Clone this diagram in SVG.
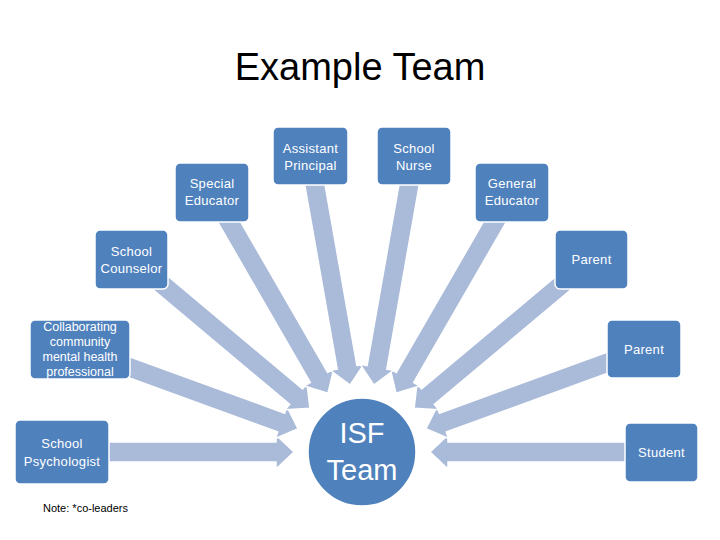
<svg xmlns="http://www.w3.org/2000/svg" xmlns:xlink="http://www.w3.org/1999/xlink" width="720" height="540" viewBox="0 0 720 540">
<style>
.node rect{fill:#4F81BD;stroke:#FFFFFF;stroke-width:1.5}
.node text{fill:#FFFFFF;font-family:"Liberation Sans",Arial,sans-serif;font-size:13px;text-anchor:middle;letter-spacing:0.3px}
.title{fill:#000000;font-family:"Liberation Sans",Arial,sans-serif;font-size:38px;text-anchor:middle}
.note{fill:#000000;font-family:"Liberation Sans",Arial,sans-serif;font-size:11px}
.arr{fill:#AABAD9;stroke:#FFFFFF;stroke-width:1.5;stroke-linejoin:miter}
</style>
<defs>
<polygon id="arrow" class="arr" points="68,0 86,-17 86,-10 300,-10 300,10 86,10 86,17"/>
</defs>
<rect width="720" height="540" fill="#FFFFFF"/>
<text class="title" x="360" y="80">Example Team</text>
<g id="connectors">
<use xlink:href="#arrow" href="#arrow" transform="translate(362,452) rotate(180)"/>
<use xlink:href="#arrow" href="#arrow" transform="translate(362,452) rotate(0)"/>
<use xlink:href="#arrow" href="#arrow" transform="translate(362,452) rotate(200)"/>
<use xlink:href="#arrow" href="#arrow" transform="translate(362,452) rotate(340)"/>
<use xlink:href="#arrow" href="#arrow" transform="translate(362,452) rotate(220)"/>
<use xlink:href="#arrow" href="#arrow" transform="translate(362,452) rotate(320)"/>
<use xlink:href="#arrow" href="#arrow" transform="translate(362,452) rotate(240)"/>
<use xlink:href="#arrow" href="#arrow" transform="translate(362,452) rotate(300)"/>
<use xlink:href="#arrow" href="#arrow" transform="translate(362,452) rotate(260)"/>
<use xlink:href="#arrow" href="#arrow" transform="translate(362,452) rotate(280)"/>
</g>
<g id="isf-team" class="node">
<circle cx="362" cy="452" r="54" fill="#4F81BD" stroke="#FFFFFF" stroke-width="1.5"/>
<text x="362" y="443" style="font-size:29px;letter-spacing:0">ISF</text>
<text x="362" y="480" style="font-size:29px;letter-spacing:0">Team</text>
</g>
<g id="assistant-principal" class="node">
<rect x="273" y="127" width="75" height="58" rx="5"/>
<text x="310.5" y="153">Assistant</text>
<text x="310.5" y="170">Principal</text>
</g>
<g id="school-nurse" class="node">
<rect x="377" y="127" width="74" height="58" rx="5"/>
<text x="414" y="153">School</text>
<text x="414" y="170">Nurse</text>
</g>
<g id="special-educator" class="node">
<rect x="175" y="163" width="74" height="59" rx="5"/>
<text x="212" y="188">Special</text>
<text x="212" y="205">Educator</text>
</g>
<g id="general-educator" class="node">
<rect x="475" y="163" width="74" height="59" rx="5"/>
<text x="512" y="188">General</text>
<text x="512" y="205">Educator</text>
</g>
<g id="school-counselor" class="node">
<rect x="95" y="230" width="73" height="59" rx="5"/>
<text x="131.5" y="256">School</text>
<text x="131.5" y="273">Counselor</text>
</g>
<g id="parent-1" class="node">
<rect x="555" y="230" width="73" height="59" rx="5"/>
<text x="591.5" y="264">Parent</text>
</g>
<g id="collaborating" class="node">
<rect x="30" y="320" width="100" height="59" rx="5"/>
<text x="80" y="331" style="font-size:12.5px;letter-spacing:0">Collaborating</text>
<text x="80" y="346" style="font-size:12.5px;letter-spacing:0">community</text>
<text x="80" y="361" style="font-size:12.5px;letter-spacing:0">mental health</text>
<text x="80" y="376" style="font-size:12.5px;letter-spacing:0">professional</text>
</g>
<g id="parent-2" class="node">
<rect x="607" y="320" width="74" height="58" rx="5"/>
<text x="644" y="354">Parent</text>
</g>
<g id="school-psychologist" class="node">
<rect x="15" y="420" width="94" height="64" rx="5"/>
<text x="62" y="448">School</text>
<text x="62" y="466">Psychologist</text>
</g>
<g id="student" class="node">
<rect x="625" y="423" width="73" height="59" rx="5"/>
<text x="661.5" y="457">Student</text>
</g>
<text class="note" x="43" y="512">Note: *co-leaders</text>
</svg>
